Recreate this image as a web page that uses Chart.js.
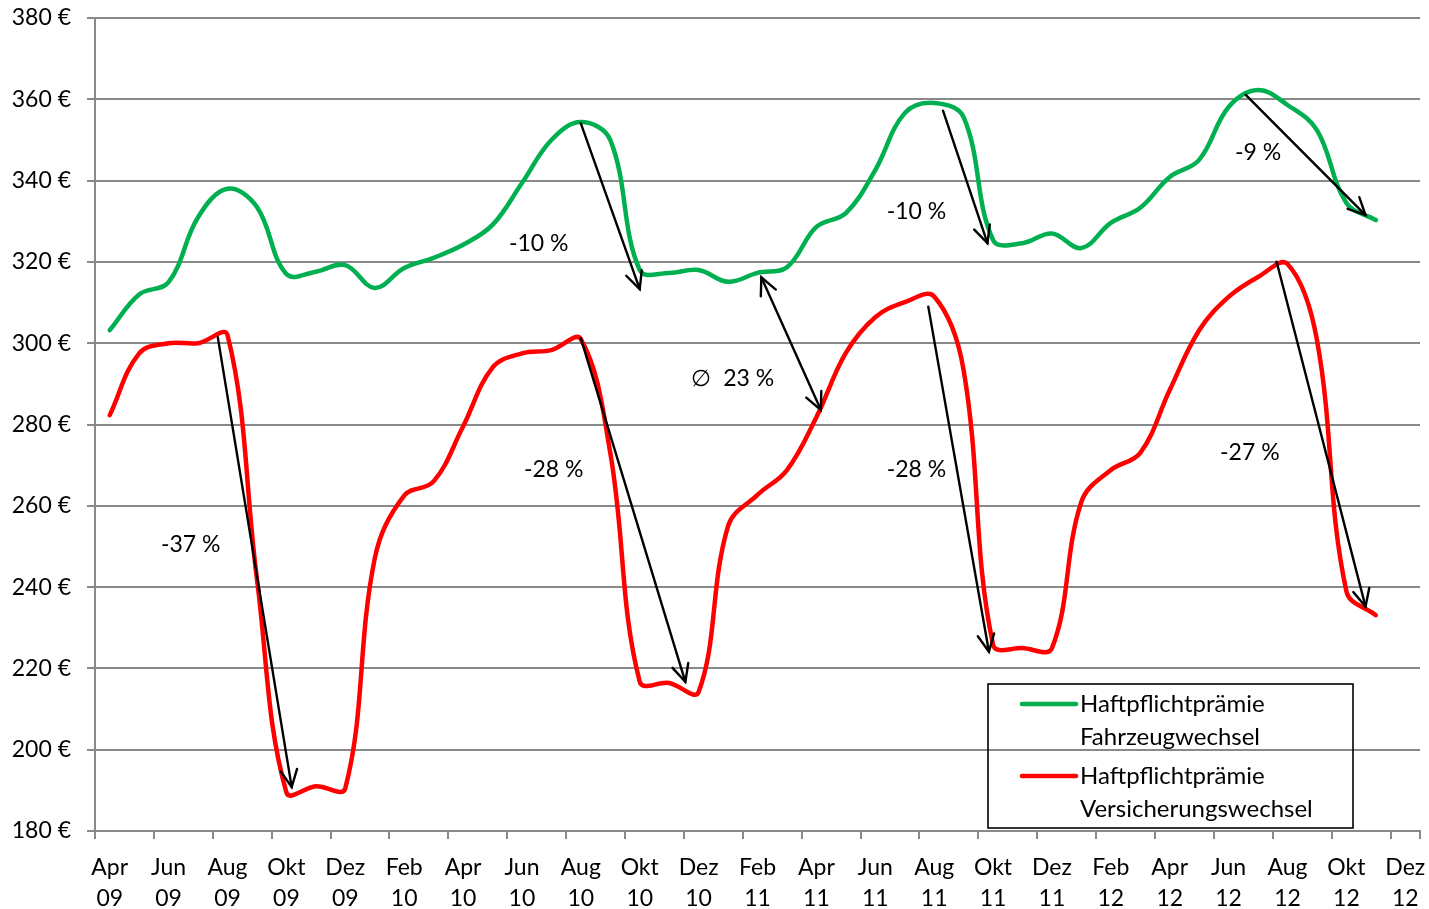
<!DOCTYPE html>
<html>
<head>
<meta charset="utf-8">
<script src="https://cdn.jsdelivr.net/npm/chart.js@4.4.1/dist/chart.umd.min.js"></script>
<style>
  html, body { margin: 0; padding: 0; background: #fff; }
  #wrap { width: 1429px; height: 909px; position: relative; }
</style>
</head>
<body>
<div id="wrap"><canvas id="c" width="1429" height="909"></canvas></div>
<script>
// ---- data ----
const categories = [
  'Apr 09','Mai 09','Jun 09','Jul 09','Aug 09','Sep 09','Okt 09','Nov 09','Dez 09',
  'Jan 10','Feb 10','Mär 10','Apr 10','Mai 10','Jun 10','Jul 10','Aug 10','Sep 10','Okt 10','Nov 10','Dez 10',
  'Jan 11','Feb 11','Mär 11','Apr 11','Mai 11','Jun 11','Jul 11','Aug 11','Sep 11','Okt 11','Nov 11','Dez 11',
  'Jan 12','Feb 12','Mär 12','Apr 12','Mai 12','Jun 12','Jul 12','Aug 12','Sep 12','Okt 12','Nov 12','Dez 12'
];
const fahrzeugwechsel = [
  303.2, 312, 315, 331, 338, 333.5, 317, 317.6, 319.2,
  313.6, 318.5, 321, 324.2, 329.1, 339.4, 350, 354.4, 350, 318, 317.3, 318,
  315.1, 317.3, 318.7, 328.6, 332, 342.6, 356.6, 359.1, 355.6, 325.4, 324.6, 327,
  323.4, 329.6, 333.3, 340.9, 345.1, 358.1, 362.3, 358.6, 352.4, 334.5, 330.3, null
];
const versicherungswechsel = [
  282.3, 297.5, 300, 300, 302, 242, 189.5, 191, 190.5,
  247, 262.5, 266, 279.5, 294, 297.5, 298.3, 301, 273, 216.7, 216.4, 214.2,
  255, 262.7, 268.8, 281.8, 297.6, 306.4, 310.1, 311.5, 293.4, 225.8, 225, 225,
  261, 268.8, 273, 288.5, 303.2, 311.4, 316.3, 319.5, 300.8, 239, 233.1, null
];
const seriesNames = [
  ['Haftpflichtprämie', 'Fahrzeugwechsel'],
  ['Haftpflichtprämie', 'Versicherungswechsel']
];
const yTicks = { min: 180, max: 380, step: 20, unit: ' €' };
// annotation arrows in data units: [category index, value]
const arrowFrom = [[3.67, 301.5], [16.0, 354.1], [16.0, 301.2], [24.15, 283.6], [28.3, 357.2], [27.8, 309.0], [38.58, 361.1], [39.63, 320.05]];
const arrowTo   = [[6.18, 190.8], [18.0, 313.3], [19.55, 216.7], [22.13, 316.2], [29.81, 324.6], [29.86, 224.1], [42.65, 331.5], [42.65, 235.2]];
const arrowBoth = [false, false, false, true, false, false, false, false];
const noteTexts = ['-37 %', '-10 %', '-28 %', '∅  23 %', '-10 %', '-28 %', '-9 %', '-27 %'];
const notePos   = [[2.75, 250.4], [14.57, 324.6], [15.08, 269.0], [21.16, 291.2], [27.4, 332.3], [27.4, 269.0], [39.0, 347.0], [38.72, 273.0]];

// ---- styles ----
const FONT = 'Lato, "Open Sans", sans-serif';
const GRID = '#898989';
const GREEN = '#00B050';
const RED = '#FF0000';

function drawHead(ctx, x, y, ang) {
  const L = 19, A = Math.PI / 7;
  ctx.beginPath();
  ctx.moveTo(x - L * Math.cos(ang - A), y - L * Math.sin(ang - A));
  ctx.lineTo(x, y);
  ctx.lineTo(x - L * Math.cos(ang + A), y - L * Math.sin(ang + A));
  ctx.stroke();
}

const annotationPlugin = {
  id: 'annotations',
  afterDatasetsDraw(chart) {
    const { ctx, scales: { x, y }, chartArea } = chart;
    ctx.save();
    ctx.strokeStyle = '#000';
    ctx.lineWidth = 2.4;
    ctx.lineCap = 'round';
    ctx.lineJoin = 'miter';
    arrowFrom.forEach((f, i) => {
      const t = arrowTo[i];
      const x1 = x.getPixelForValue(f[0]), y1 = y.getPixelForValue(f[1]);
      const x2 = x.getPixelForValue(t[0]), y2 = y.getPixelForValue(t[1]);
      ctx.beginPath(); ctx.moveTo(x1, y1); ctx.lineTo(x2, y2); ctx.stroke();
      const ang = Math.atan2(y2 - y1, x2 - x1);
      drawHead(ctx, x2, y2, ang);
      if (arrowBoth[i]) drawHead(ctx, x1, y1, ang + Math.PI);
    });
    ctx.fillStyle = '#000';
    ctx.font = '23px ' + FONT;
    ctx.textAlign = 'center';
    ctx.textBaseline = 'middle';
    noteTexts.forEach((txt, i) => {
      ctx.fillText(txt, x.getPixelForValue(notePos[i][0]), y.getPixelForValue(notePos[i][1]));
    });

    // legend box (inside plot, bottom right)
    const bw = 365, bh = 144;
    const bx = chartArea.right - 432, by = chartArea.bottom - 147;
    ctx.lineWidth = 1.6;
    ctx.strokeStyle = '#000';
    ctx.strokeRect(bx, by, bw, bh);
    const colors = [GREEN, RED];
    ctx.textAlign = 'left';
    ctx.font = '24px ' + FONT;
    seriesNames.forEach((lines, i) => {
      const rowY = by + 20 + i * 72;
      ctx.strokeStyle = colors[i];
      ctx.lineWidth = 4.5;
      ctx.lineCap = 'round';
      ctx.beginPath(); ctx.moveTo(bx + 34, rowY); ctx.lineTo(bx + 88, rowY); ctx.stroke();
      ctx.fillStyle = '#000';
      lines.forEach((ln, j) => ctx.fillText(ln, bx + 92, rowY + j * 33));
    });
    ctx.restore();
  }
};

new Chart(document.getElementById('c'), {
  type: 'line',
  data: {
    labels: categories,
    datasets: [
      { label: seriesNames[0].join(' '), data: fahrzeugwechsel, borderColor: GREEN, borderWidth: 4.5,
        pointRadius: 0, tension: 0.38, fill: false },
      { label: seriesNames[1].join(' '), data: versicherungswechsel, borderColor: RED, borderWidth: 4.5,
        pointRadius: 0, tension: 0.38, fill: false }
    ]
  },
  options: {
    responsive: false,
    animation: false,
    devicePixelRatio: 1,
    layout: { padding: { top: 18, right: 9, left: 0, bottom: 0 } },
    plugins: { legend: { display: false }, tooltip: { enabled: false } },
    elements: { line: { capBezierPoints: true, borderCapStyle: 'round', borderJoinStyle: 'round' } },
    scales: {
      x: {
        type: 'category',
        offset: true,
        afterFit(scale) { scale.height = 78; scale.paddingLeft = 0; scale.paddingRight = 0; },
        border: { display: true, color: GRID, width: 2 },
        grid: {
          offset: true,
          drawOnChartArea: false,
          drawTicks: true,
          tickLength: 8,
          lineWidth: 2,
          color: (c) => (c.index !== undefined && c.index % 2 === 1) ? 'rgba(0,0,0,0)' : GRID
        },
        ticks: {
          autoSkip: false,
          maxRotation: 0,
          minRotation: 0,
          padding: 13,
          color: '#000',
          font: { family: FONT, size: 23, lineHeight: 1.35 },
          callback: (v, i) => (i % 2 === 0 ? categories[i].split(' ') : '')
        }
      },
      y: {
        min: yTicks.min,
        max: yTicks.max,
        afterFit(scale) { scale.width = 95; scale.paddingTop = 0; scale.paddingBottom = 0; },
        border: { display: true, color: GRID, width: 2 },
        grid: { color: GRID, lineWidth: 2, tickLength: 8, drawTicks: true },
        ticks: {
          stepSize: yTicks.step,
          padding: 16,
          color: '#000',
          font: { family: FONT, size: 23 },
          callback: (v) => v + yTicks.unit
        }
      }
    }
  },
  plugins: [annotationPlugin]
});
</script>
</body>
</html>
